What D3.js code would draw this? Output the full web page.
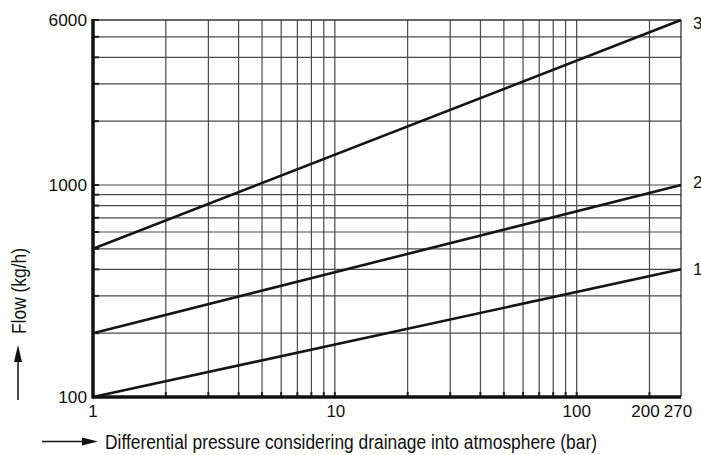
<!DOCTYPE html>
<html><head><meta charset="utf-8">
<script src="https://cdn.jsdelivr.net/npm/d3@7"></script>
<style>
html,body{margin:0;padding:0;background:#fff;}
svg{display:block;font-family:"Liberation Sans",Arial,Helvetica,sans-serif;}
</style></head>
<body>
<svg id="c" width="701" height="455"></svg>
<script>
// Data
const pressure = [1, 270];
const curve1 = [100, 400];
const curve2 = [200, 1000];
const curve3 = [500, 6000];
const seriesNames = ["1", "2", "3"];
const xTickLabels = [1, 10, 100, 200, 270];
const yTickLabels = [100, 1000, 6000];
const xGrid = [2,3,4,5,6,7,8,9,10,20,30,40,50,60,70,80,90,100,200];
const yGrid = [200,300,400,500,600,700,800,900,1000,2000,3000,4000,5000];

const svg = d3.select("#c");
const L = 93, R = 681, T = 20, B = 397;
const x = d3.scaleLog().domain([1, 270]).range([L, R]);
const y = d3.scaleLog().domain([100, 6000]).range([B, T]);

// gridlines
const g = svg.append("g");
g.selectAll("line.vg").data(xGrid).join("line")
  .attr("x1", d => x(d)).attr("x2", d => x(d)).attr("y1", T).attr("y2", B)
  .attr("stroke", "#4a4a4a").attr("stroke-width", 1.2);
g.selectAll("line.hg").data(yGrid).join("line")
  .attr("x1", L).attr("x2", R).attr("y1", d => y(d)).attr("y2", d => y(d))
  .attr("stroke", "#4a4a4a").attr("stroke-width", 1.2);
// top & right border
g.append("line").attr("x1", L).attr("x2", R).attr("y1", T).attr("y2", T).attr("stroke", "#333").attr("stroke-width", 1.3);
g.append("line").attr("x1", R).attr("x2", R).attr("y1", T).attr("y2", B).attr("stroke", "#333").attr("stroke-width", 1.3);

// small ticks on axes
g.selectAll("line.yt").data(yGrid.concat([6000])).join("line")
  .attr("x1", L).attr("x2", L + 6).attr("y1", d => y(d)).attr("y2", d => y(d))
  .attr("stroke", "#222").attr("stroke-width", 2);
g.selectAll("line.xt").data(xGrid).join("line")
  .attr("x1", d => x(d)).attr("x2", d => x(d)).attr("y1", B).attr("y2", B - 5)
  .attr("stroke", "#222").attr("stroke-width", 2);

// axis lines
svg.append("line").attr("x1", L).attr("x2", L).attr("y1", T - 1).attr("y2", B + 1.5)
  .attr("stroke", "#111").attr("stroke-width", 3.5);
svg.append("line").attr("x1", L - 1).attr("x2", R).attr("y1", B).attr("y2", B)
  .attr("stroke", "#111").attr("stroke-width", 3.5);

// series lines
const series = [curve1, curve2, curve3];
const line = d3.line().x((d, i) => x(pressure[i])).y(d => y(d));
svg.selectAll("path.s").data(series).join("path")
  .attr("d", d => line(d)).attr("fill", "none")
  .attr("stroke", "#151515").attr("stroke-width", 2.6);
svg.selectAll("text.sl").data(series).join("text")
  .attr("x", 693).attr("y", (d, i) => y(d[d.length - 1]) + [0, -3, 3][i] + 6)
  .attr("font-size", 17).attr("fill", "#111")
  .text((d, i) => seriesNames[i]);

// tick labels
svg.selectAll("text.yl").data(yTickLabels).join("text")
  .attr("x", 87).attr("y", d => y(d)).attr("dy", "0.36em")
  .attr("text-anchor", "end").attr("font-size", 17).attr("fill", "#111")
  .attr("textLength", d => String(d).length * 9.6).attr("lengthAdjust", "spacingAndGlyphs")
  .text(d => d);
svg.selectAll("text.xl").data(xTickLabels).join("text")
  .attr("x", d => x(d) + (d === 200 ? -4 : d === 270 ? -3 : d === 10 ? 1 : 0)).attr("y", 417)
  .attr("text-anchor", "middle").attr("font-size", 17).attr("fill", "#111")
  .text(d => d);

// x title with arrow
svg.append("line").attr("x1", 42).attr("x2", 86).attr("y1", 441.5).attr("y2", 441.5)
  .attr("stroke", "#111").attr("stroke-width", 1.5);
svg.append("path").attr("d", "M82,437.5 L98,441.5 L82,445.5 Z").attr("fill", "#111");
svg.append("text").attr("x", 105).attr("y", 449).attr("font-size", 19.5).attr("fill", "#111")
  .attr("textLength", 492).attr("lengthAdjust", "spacingAndGlyphs")
  .text("Differential pressure considering drainage into atmosphere (bar)");

// y title with arrow
svg.append("line").attr("x1", 18).attr("x2", 18).attr("y1", 400).attr("y2", 358)
  .attr("stroke", "#111").attr("stroke-width", 1.5);
svg.append("path").attr("d", "M14,362 L18,345 L22,362 Z").attr("fill", "#111");
svg.append("text").attr("transform", "translate(26,291) rotate(-90)")
  .attr("text-anchor", "middle").attr("font-size", 19.5).attr("fill", "#111")
  .attr("textLength", 86).attr("lengthAdjust", "spacingAndGlyphs")
  .text("Flow (kg/h)");
</script>
</body></html>
